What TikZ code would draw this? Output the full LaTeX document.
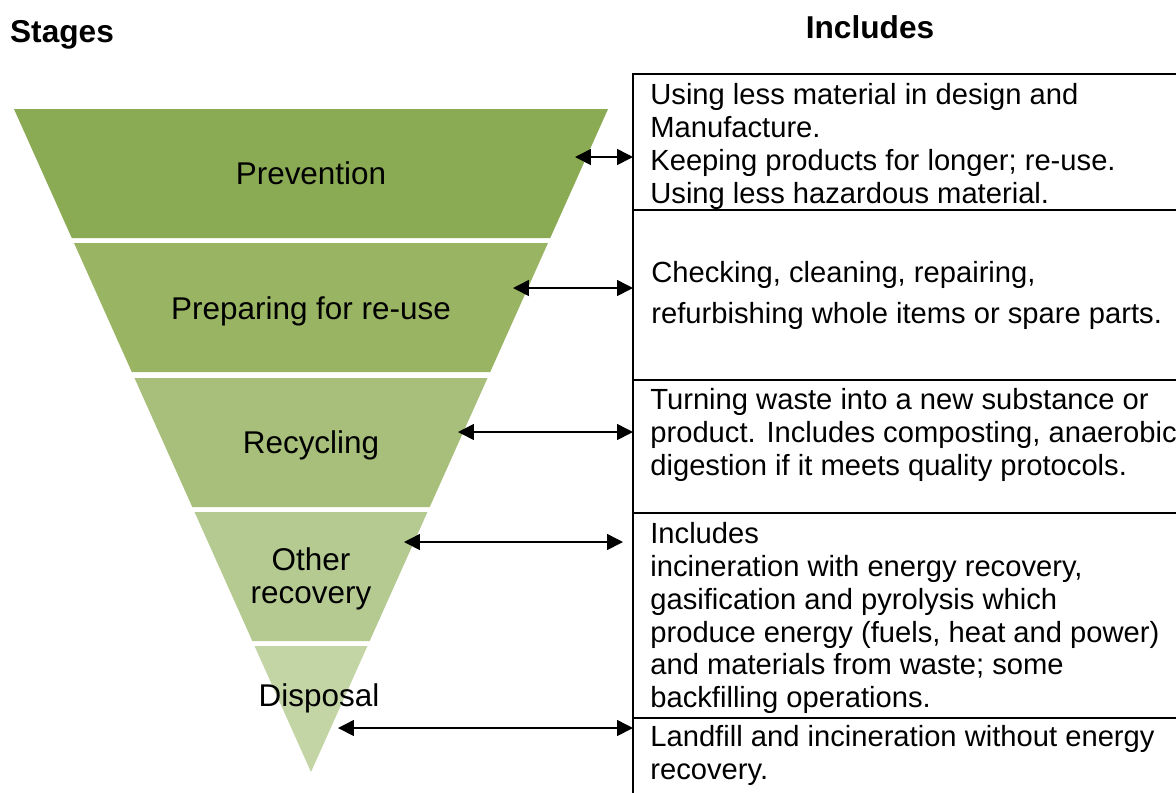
\documentclass[tikz,border=0pt]{standalone}
\usepackage{fontspec}
\setmainfont{Liberation Sans}
\usetikzlibrary{arrows.meta}
\definecolor{prevcol}{HTML}{8AAA53}
\definecolor{prepcol}{HTML}{99B462}
\definecolor{recycol}{HTML}{A7BF7A}
\definecolor{othercol}{HTML}{B4CA91}
\definecolor{dispcol}{HTML}{C3D5A5}
\newcommand{\funnelslope}{0.448}
\tikzstyle{heading}=[font=\fontsize{18}{21}\selectfont\bfseries, inner sep=0]
\tikzstyle{stagelabel}=[font=\fontsize{17.9}{18.7}\selectfont, align=center, inner sep=0]
\tikzstyle{rowbox}=[draw, line width=1pt, inner sep=0, outer sep=0, anchor=north west, minimum width=11.2cm]
\tikzstyle{rowtext}=[font=\fontsize{16.6}{18.7}\selectfont, align=left, inner sep=0, anchor=north west]
\tikzstyle{link}=[line width=0.9pt, {Triangle[length=9pt,width=9pt]}-{Triangle[length=9pt,width=9pt]}]

\begin{document}
\begin{tikzpicture}[x=0.02cm, y=-0.02cm]
    \useasboundingbox (0, 0) rectangle (1176, 792);
    % funnel bands, cut from one triangle with apex at (311, 772)
    \foreach \ytop/\ybot/\col in {109/238/prevcol, 243/372/prepcol, 378/507/recycol, 512/641/othercol}
        \fill[\col] ({311-\funnelslope*(772-\ytop)}, \ytop) -- ({311+\funnelslope*(772-\ytop)}, \ytop)
                 -- ({311+\funnelslope*(772-\ybot)}, \ybot) -- ({311-\funnelslope*(772-\ybot)}, \ybot) -- cycle;
    \fill[dispcol] ({311-\funnelslope*126}, 646) -- ({311+\funnelslope*126}, 646) -- (311, 772) -- cycle;

    \node[heading] (stages) at (62, 35) {Stages};
    \node[heading] (includes) at (870, 27) {Includes};

    \node[stagelabel, anchor=base] (prevention) at (311, 184) {Prevention};
    \node[stagelabel, anchor=base] (preparing) at (311, 319) {Preparing for re-use};
    \node[stagelabel, anchor=base] (recycling) at (311, 453) {Recycling};
    \node[stagelabel] (other) at (311, 579) {Other\\recovery};
    \node[stagelabel, anchor=base] (disposal) at (319, 706) {Disposal};

    % table rows
    \node[rowbox, minimum height=2.72cm] (row1) at (633, 74) {};
    \node[rowbox, minimum height=3.4cm] (row2) at (633, 210) {};
    \node[rowbox, minimum height=2.66cm] (row3) at (633, 380) {};
    \node[rowbox, minimum height=4.1cm] (row4) at (633, 513) {};
    \node[rowbox, minimum height=2cm] (row5) at (633, 718) {};

    \node[rowtext] (text1) at (650, 83) {Using less material in design and\\Manufacture.\\Keeping products for longer; re-use.\\Using less hazardous material.};
    \node[rowtext, font=\fontsize{16.6}{23.2}\selectfont] (text2) at (651, 261) {Checking, cleaning, repairing,\\refurbishing whole items or spare parts.};
    \node[rowtext] (text3) at (650, 388) {Turning waste into a new substance or\\product. Includes composting, anaerobic\\digestion if it meets quality protocols.};
    \node[rowtext] (text4) at (650, 522) {Includes\\incineration with energy recovery,\\gasification and pyrolysis which\\produce energy (fuels, heat and power)\\and materials from waste; some\\backfilling operations.};
    \node[rowtext] (text5) at (650, 725) {Landfill and incineration without energy\\recovery.};

    % arrow ends inside the bands
    \coordinate (a1) at (575, 157);
    \coordinate (a2) at (513, 288);
    \coordinate (a3) at (458, 432);
    \coordinate (a4) at (404, 542);
    \coordinate (a5) at (338, 728);
    \draw[link] (a1) -- (row1.west |- a1);
    \draw[link] (a2) -- (row2.west |- a2);
    \draw[link] (a3) -- (row3.west |- a3);
    \draw[link, shorten >=0.2cm] (a4) -- (row4.west |- a4);
    \draw[link] (a5) -- (row5.west |- a5);
\end{tikzpicture}
\end{document}
